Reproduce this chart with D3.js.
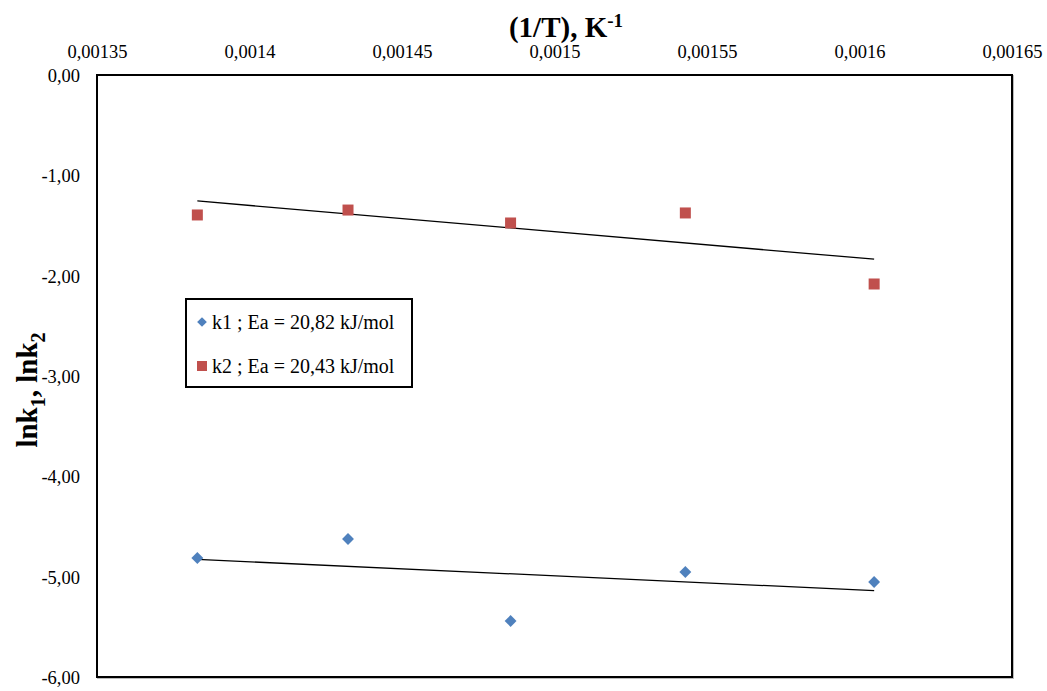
<!DOCTYPE html>
<html>
<head>
<meta charset="utf-8">
<script src="https://cdn.jsdelivr.net/npm/d3@7"></script>
<style>
  body { margin: 0; background: #fff; }
  svg text { font-family: "Liberation Serif", "Times New Roman", serif; }
</style>
</head>
<body>
<svg id="chart" width="1047" height="691"></svg>
<script>
// Data
const invT = [0.0013829, 0.0014323, 0.0014856, 0.0015429, 0.0016048];
const lnk1 = [-4.814, -4.625, -5.442, -4.954, -5.053];
const lnk2 = [-1.395, -1.346, -1.475, -1.375, -2.083];
const xTicks = [0.00135, 0.0014, 0.00145, 0.0015, 0.00155, 0.0016, 0.00165];
const xTickLabels = ["0,00135", "0,0014", "0,00145", "0,0015", "0,00155", "0,0016", "0,00165"];
const yTicks = [0, -1, -2, -3, -4, -5, -6];
const yTickLabels = ["0,00", "-1,00", "-2,00", "-3,00", "-4,00", "-5,00", "-6,00"];
const legendLabels = ["k1 ; Ea = 20,82 kJ/mol", "k2 ; Ea = 20,43 kJ/mol"];
const colors = ["#4F81BD", "#C0504D"];

const FONT = "'Liberation Serif', 'Times New Roman', serif";
const svg = d3.select("#chart");
const L = 97, T = 75, R = 1012, B = 677;
const x = d3.scaleLinear().domain([0.00135, 0.00165]).range([L, R]);
const y = d3.scaleLinear().domain([-6, 0]).range([B, T]);

// plot frame
svg.append("rect").attr("x", L + 1).attr("y", T + 1).attr("width", R - L).attr("height", B - T)
  .attr("fill", "none").attr("stroke", "#bbb").attr("stroke-width", 2);
svg.append("rect").attr("x", L).attr("y", T).attr("width", R - L).attr("height", B - T)
  .attr("fill", "#fff").attr("stroke", "#000").attr("stroke-width", 2);

// x axis (top)
const xAxis = d3.axisTop(x).tickValues(xTicks).tickSize(0)
  .tickFormat((d, i) => xTickLabels[i]);
const gx = svg.append("g").attr("transform", `translate(0,${T})`).call(xAxis)
  .attr("font-family", FONT).attr("font-size", 18.5);
gx.select(".domain").remove();
gx.selectAll("text").attr("y", -17).attr("dy", 0).attr("fill", "#000");

// y axis
const yAxis = d3.axisLeft(y).tickValues(yTicks).tickSize(0)
  .tickFormat((d, i) => yTickLabels[i]);
const gy = svg.append("g").attr("transform", `translate(${L},0)`).call(yAxis)
  .attr("font-family", FONT).attr("font-size", 18.5);
gy.select(".domain").remove();
gy.selectAll("text").attr("x", -17).attr("dy", "0.35em").attr("fill", "#000");

// titles
const xt = svg.append("text").attr("x", 566).attr("y", 37).attr("text-anchor", "middle")
  .attr("font-family", FONT).attr("font-size", 29).attr("font-weight", "bold");
xt.append("tspan").text("(1/T), K");
xt.append("tspan").attr("dy", -10).attr("font-size", 19).text("-1");

const yt = svg.append("text").attr("transform", "translate(37,390) rotate(-90)")
  .attr("text-anchor", "middle").attr("font-family", FONT).attr("font-size", 29).attr("font-weight", "bold");
yt.append("tspan").text("lnk");
yt.append("tspan").attr("dy", 8).attr("font-size", 20).text("1");
yt.append("tspan").attr("dy", -8).text(", lnk");
yt.append("tspan").attr("dy", 8).attr("font-size", 20).text("2");

// trendlines (least squares)
function fit(xs, ys) {
  const mx = d3.mean(xs), my = d3.mean(ys);
  let sxy = 0, sxx = 0;
  xs.forEach((v, i) => { sxy += (v - mx) * (ys[i] - my); sxx += (v - mx) * (v - mx); });
  const m = sxy / sxx;
  return v => my + m * (v - mx);
}
const x0 = d3.min(invT), x1 = d3.max(invT);
[lnk1, lnk2].forEach(ys => {
  const f = fit(invT, ys);
  svg.append("line").attr("x1", x(x0)).attr("y1", y(f(x0))).attr("x2", x(x1)).attr("y2", y(f(x1)))
    .attr("stroke", "#000").attr("stroke-width", 1.3);
});

// markers
const diamond = d3.symbol().type(d3.symbolDiamond2).size(90);
svg.append("g").selectAll("path").data(invT).join("path")
  .attr("d", diamond).attr("transform", (d, i) => `translate(${x(d)},${y(lnk1[i])})`)
  .attr("fill", colors[0]);
svg.append("g").selectAll("rect").data(invT).join("rect")
  .attr("x", d => x(d) - 5.5).attr("y", (d, i) => y(lnk2[i]) - 5.5)
  .attr("width", 11).attr("height", 11).attr("fill", colors[1]);

// legend
const lg = svg.append("g");
lg.append("rect").attr("x", 186).attr("y", 299).attr("width", 226).attr("height", 88)
  .attr("fill", "#fff").attr("stroke", "#000").attr("stroke-width", 2);
lg.append("path").attr("d", d3.symbol().type(d3.symbolDiamond2).size(60)())
  .attr("transform", "translate(202,322)").attr("fill", colors[0]);
lg.append("rect").attr("x", 197).attr("y", 361).attr("width", 10).attr("height", 10).attr("fill", colors[1]);
legendLabels.forEach((t, i) => {
  lg.append("text").attr("x", 212).attr("y", 329 + i * 44)
    .attr("font-family", FONT).attr("font-size", 20).text(t);
});
</script>
</body>
</html>
